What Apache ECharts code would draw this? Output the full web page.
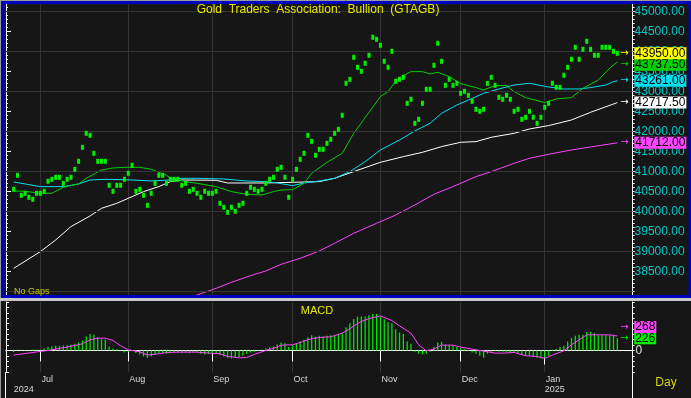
<!DOCTYPE html>
<html>
<head>
<meta charset="utf-8">
<title>Gold Traders Association: Bullion (GTAGB)</title>
<script src="https://cdn.jsdelivr.net/npm/echarts@6/dist/echarts.min.js"></script>
<style>
  html, body { margin: 0; padding: 0; background: #161616; }
  #chart { width: 691px; height: 398px; }
</style>
</head>
<body>
<div id="chart"></div>
<script>
// daily closes, 20 Jun 2024 .. 28 Jan 2025 (weekdays, no gaps)
var closes = [
  40550, 40900, 40400, 40450, 40350, 40300, 40450, 40450, 40500, 40750,
  40800, 40850, 40850, 40700, 40800, 40850, 41050, 41250, 41600, 41950,
  41900, 41450, 41250, 41250, 41250, 40650, 40500, 40650, 40650, 40800,
  40950, 41150, 40500, 40550, 40400, 40150, 40450, 40700, 40900, 40900,
  40700, 40800, 40800, 40800, 40650, 40700, 40500, 40550, 40450, 40350,
  40500, 40450, 40450, 40500, 40200, 40100, 39975, 40100, 40000, 40150,
  40200, 40450, 40600, 40550, 40500, 40550, 40700, 40800, 40850, 41050,
  41100, 40850, 40350, 40800, 41050, 41300, 41450, 41900, 41750, 41400,
  41550, 41550, 41700, 41800, 41950, 42050, 42400, 43200, 43300, 43850,
  43600, 43500, 43700, 43900, 44350, 44300, 44150, 43750, 43600, 44000,
  43250, 43300, 43350, 42700, 42800, 42200, 42300, 42700, 43050, 43050,
  43650, 44200, 43750, 43150, 43300, 43150, 43200, 42950, 43000, 42900,
  42750, 42550, 42500, 42550, 43200, 43350, 43150, 42850, 42800, 42900,
  42800, 42500, 42550, 42300, 42350, 42500, 42350, 42200, 42350, 42600,
  42700, 43200, 43100, 43100, 43400, 43600, 43800, 44100, 43800, 44050,
  44250, 44050, 43900, 43900, 44100, 44100, 44100, 44000, 43950
];

// moving averages: [day index, value]
var maFast = [[0,40508],[3,40500],[7,40450],[10,40450],[13,40600],[17,40683],[19,40825],[23,41033],
  [26,41083],[29,41100],[33,41100],[36,41050],[40,40900],[41,40830],[45,40742],[48,40700],[53,40617],
  [57,40492],[61,40425],[65,40408],[68,40492],[70,40533],[73,40542],[76,40700],[78,40950],[82,41225],
  [86,41450],[89,41950],[93,42475],[96,42867],[98,42992],[100,43258],[102,43392],[104,43492],[107,43492],
  [109,43433],[111,43475],[114,43367],[117,43192],[121,43092],[123,43033],[126,43142],[129,43142],
  [131,42992],[134,42842],[139,42717],[142,42808],[146,42842],[149,43075],[153,43283],[156,43575],[158,43737.5]];
var maMid = [[0,40733],[3,40683],[7,40617],[13,40617],[17,40683],[20,40783],[24,40800],[31,40783],
  [36,40758],[41,40783],[44,40825],[48,40825],[55,40808],[61,40758],[66,40742],[69,40708],[73,40642],
  [76,40708],[79,40742],[84,40825],[88,40992],[92,41242],[96,41533],[101,41783],[105,42008],[109,42200],
  [112,42450],[116,42658],[119,42780],[123,42950],[127,43058],[131,43158],[135,43200],[140,43108],
  [144,43058],[148,43058],[151,43092],[155,43158],[157,43242],[158,43261]];
var maSlow = [[0,38575],[7,38992],[11,39283],[15,39617],[20,39883],[23,40075],[27,40200],[31,40367],
  [34,40492],[38,40617],[41,40742],[44,40783],[53,40775],[56,40708],[66,40708],[73,40725],[80,40742],
  [84,40825],[89,40992],[96,41225],[102,41367],[107,41475],[112,41617],[117,41725],[121,41742],
  [125,41850],[131,41950],[135,42058],[140,42142],[146,42283],[151,42475],[158,42717.5]];
var maLong = [[44,37750],[48,37908],[53,38075],[57,38225],[62,38392],[66,38508],[70,38675],[75,38825],
  [80,39008],[84,39200],[89,39450],[95,39700],[100,39908],[105,40158],[110,40425],[116,40658],
  [121,40867],[125,40992],[131,41200],[135,41325],[140,41425],[146,41533],[151,41608],[158,41712]];

// MACD panel
var macdHist = [
  -30, 15, 15, 10, 10, 12, 15, 15, 37, 62,
  74, 86, 86, 92, 99, 105, 123, 148, 185, 259,
  308, 296, 247, 210, 197, 74, 37, 25, 6, -37,
  -25, -12, -49, -74, -111, -136, -111, -74, -49, -49,
  -62, -49, -37, -37, -49, -37, -49, -37, -37, -62,
  -74, -62, -49, -62, -86, -111, -136, -148, -136, -123,
  -99, -62, -37, -25, -12, 12, 37, 62, 74, 111,
  148, 136, 62, 99, 136, 167, 197, 247, 284, 259,
  271, 259, 271, 284, 284, 308, 330, 430, 506, 586,
  629, 629, 629, 654, 679, 679, 629, 580, 530, 506,
  395, 333, 308, 167, 123, -25, -62, -74, -62, -25,
  62, 148, 160, 105, 99, 86, 62, 43, 25, -12,
  -37, -62, -99, -136, -62, -25, -12, -25, -25, -25,
  -37, -49, -49, -86, -99, -99, -111, -136, -148, -136,
  -99, 12, 25, 62, 86, 167, 228, 271, 290, 290,
  345, 345, 321, 284, 284, 284, 284, 271, 226
];
var macdSignal = [[0,-86],[7,-18],[9,0],[14,62],[18,123],[20,197],[22,228],[24,228],[26,185],[28,86],
  [30,12],[33,-25],[35,-86],[38,-62],[40,-37],[43,-31],[48,-31],[51,-49],[54,-62],[56,-111],[59,-136],
  [61,-130],[63,-74],[66,0],[69,62],[70,99],[73,105],[75,148],[78,222],[81,247],[83,253],[86,321],
  [88,401],[89,456],[91,537],[93,592],[96,641],[99,555],[101,456],[104,321],[106,105],[108,-6],[110,25],
  [112,99],[115,99],[117,62],[120,25],[123,-12],[126,-49],[128,-49],[131,-37],[134,-99],[137,-111],
  [139,-148],[141,-86],[144,-6],[146,105],[150,290],[156,290],[158,268]];

var priceLabels = [38500, 39000, 39500, 40000, 40500, 41000, 41500, 42000, 42500, 43000, 43500, 44000, 44500, 45000];
var priceMajorTicks = [38000, 38500, 39000, 39500, 40000, 40500, 41000, 41500, 42000, 42500, 43000, 43500, 44000, 44500, 45000];
var priceGrid = [38000, 39000, 40000, 41000, 42000, 43000, 44000, 45000];
var monthNames = ['Jan', 'Feb', 'Mar', 'Apr', 'May', 'Jun', 'Jul', 'Aug', 'Sep', 'Oct', 'Nov', 'Dec'];

var PAD = 2;   // empty days left of first close
var days = (function () {
  var out = [], d = new Date(Date.UTC(2024, 5, 18));
  while (out.length < closes.length + PAD + 4) {
    var wd = d.getUTCDay();
    if (wd !== 0 && wd !== 6) out.push(d.toISOString().slice(0, 10));
    d.setUTCDate(d.getUTCDate() + 1);
  }
  return out;
})();
var lastDay = closes.length - 1 + PAD;

function monthStart(i) {
  return i > PAD && i <= lastDay && days[i].slice(5, 7) !== days[i - 1].slice(5, 7);
}
function yearStart(i) {
  return i > PAD && i <= lastDay && days[i].slice(0, 4) !== days[i - 1].slice(0, 4);
}
function shift(pairs) {
  return pairs.map(function (p) { return [p[0] + PAD, p[1]]; });
}

var FONT = '"Liberation Sans", Arial, sans-serif';
var GRID_LINE = '#343434';

function tag(color, text, dy) {
  return {
    show: true,
    distance: 3,
    offset: [0, dy || 0],
    formatter: '{a|\u2192}{b|' + text + '}',
    rich: {
      a: { color: color, fontSize: 10, width: 14, fontFamily: 'DejaVu Sans' },
      b: { backgroundColor: color, color: '#000', fontSize: 12, lineHeight: 13,
           padding: [0, 1, 0, 1], fontFamily: FONT }
    }
  };
}

function maSeries(name, data, color, label, dy) {
  return {
    name: name,
    type: 'line',
    xAxisIndex: 0,
    yAxisIndex: 0,
    data: shift(data),
    showSymbol: false,
    connectNulls: true,
    lineStyle: { color: color, width: 1 },
    itemStyle: { color: color },
    endLabel: tag(color, label, dy),
    silent: true
  };
}

var last = closes.length - 1;
var histData = macdHist.map(function (v, i) { return [i + PAD, v]; });
histData[last] = {
  value: [last + PAD, macdHist[last]],
  label: {
    show: true, position: [3.5, 0], align: 'left', verticalAlign: 'middle',
    formatter: '{a|\u2192}{b|' + macdHist[last] + '}',
    rich: tag('#00ee00', '').rich
  }
};

var option = {
  backgroundColor: '#161616',
  animation: false,
  textStyle: { fontFamily: FONT },
  grid: [
    { left: 6, right: 58.4, top: 3.3, height: 292, outerBoundsMode: 'none' },
    { left: 6, right: 58.4, top: 302, height: 70, outerBoundsMode: 'none' }
  ],
  xAxis: [
    {
      type: 'category', gridIndex: 0, data: days, boundaryGap: false,
      axisLine: { show: false }, axisTick: { show: false }, axisLabel: { show: false },
      splitLine: { show: true, interval: monthStart, lineStyle: { color: GRID_LINE } }
    },
    {
      type: 'category', gridIndex: 1, data: days, boundaryGap: false, position: 'bottom',
      axisLine: { show: true, lineStyle: { color: '#fff' } },
      axisTick: { show: true, interval: monthStart, length: 11, lineStyle: { color: '#fff' } },
      axisLabel: {
        show: true, interval: monthStart, align: 'left', verticalAlign: 'top', margin: 3,
        padding: [0, 0, 0, 1], color: '#d8d8d8', fontSize: 9,
        formatter: function (v) { return monthNames[+v.slice(5, 7) - 1]; }
      },
      splitLine: { show: true, interval: monthStart, lineStyle: { color: GRID_LINE } }
    },
    {
      type: 'category', gridIndex: 1, data: days, boundaryGap: false, position: 'bottom', offset: 11.5,
      axisLine: { show: true, lineStyle: { color: '#fff' } },
      axisTick: { show: true, interval: yearStart, length: 14, lineStyle: { color: '#fff' } },
      axisLabel: {
        show: true, interval: function (i) { return i === PAD || yearStart(i); },
        align: 'left', verticalAlign: 'top', margin: 2, color: '#d8d8d8', fontSize: 9,
        formatter: function (v) { return v.slice(0, 4); }
      },
      splitLine: { show: false }
    }
  ],
  yAxis: [
    {
      type: 'value', gridIndex: 0, position: 'right', min: 37900, max: 45200, interval: 100,
      axisLine: { show: true, lineStyle: { color: '#fff' } },
      axisTick: { show: true, length: 2, lineStyle: { color: '#fff' } },
      axisLabel: {
        show: true, customValues: priceLabels, margin: 2, color: '#00c8c8', fontSize: 12,
        formatter: function (v) { return v.toFixed(2); }
      },
      splitLine: { show: false }
    },
    {
      type: 'value', gridIndex: 0, position: 'left', min: 37900, max: 45200, interval: 100,
      axisLine: { show: true, lineStyle: { color: '#fff' } },
      axisTick: { show: true, inside: true, length: 2, lineStyle: { color: '#fff' } },
      axisLabel: { show: false }, splitLine: { show: false }
    },
    {
      type: 'value', gridIndex: 0, position: 'left', min: 37900, max: 45200, interval: 100,
      axisLine: { show: false },
      axisTick: { show: true, inside: true, length: 5, customValues: priceMajorTicks, lineStyle: { color: '#fff' } },
      axisLabel: { show: false }, splitLine: { show: false }
    },
    {
      type: 'value', gridIndex: 1, position: 'right', min: -400, max: 900, interval: 100,
      axisLine: { show: true, lineStyle: { color: '#fff' } },
      axisTick: { show: true, length: 2, lineStyle: { color: '#fff' } },
      axisLabel: {
        show: true, margin: 3, color: '#e0e0e0', fontSize: 12,
        formatter: function (v) { return v === 0 ? '0' : ''; }
      },
      splitLine: { show: false }
    },
    {
      type: 'value', gridIndex: 1, position: 'left', min: -400, max: 900, interval: 100,
      axisLine: { show: true, lineStyle: { color: '#fff' } },
      axisTick: { show: true, inside: true, length: 3, lineStyle: { color: '#fff' } },
      axisLabel: { show: false }, splitLine: { show: false }
    }
  ],
  series: [
    (function () {
      var s = maSeries('MA long', maLong, '#ff44ff', '41712.00');
      s.markLine = {
        silent: true, symbol: 'none', label: { show: false },
        lineStyle: { color: GRID_LINE, width: 1, type: 'solid' },
        data: priceGrid.map(function (v) { return { yAxis: v }; })
      };
      return s;
    })(),
    maSeries('MA slow', maSlow, '#ffffff', '42717.50'),
    maSeries('MA mid', maMid, '#00e0f0', '43261.00'),
    maSeries('MA fast', maFast, '#00d000', '43737.50', 3),
    {
      name: 'Close',
      type: 'line',
      xAxisIndex: 0, yAxisIndex: 0,
      data: closes.map(function (v, i) { return [i + PAD, v]; }),
      symbol: 'rect', symbolSize: [3, 5], showSymbol: true, showAllSymbol: true,
      lineStyle: { opacity: 0, width: 0 },
      itemStyle: { color: '#00f000' },
      endLabel: tag('#ffff00', closes[last].toFixed(2)),
      silent: true, z: 5
    },
    {
      name: 'MACD hist',
      type: 'bar',
      xAxisIndex: 1, yAxisIndex: 3,
      data: histData,
      barWidth: 1.3,
      itemStyle: { color: '#00e400' },
      silent: true
    },
    {
      name: 'MACD signal',
      type: 'line',
      xAxisIndex: 1, yAxisIndex: 3,
      data: shift(macdSignal),
      showSymbol: false,
      lineStyle: { color: '#ff44ff', width: 1 },
      endLabel: tag('#ff44ff', '268', -9),
      silent: true, z: 5
    }
  ],
  graphic: [
    { type: 'line', z: 100, shape: { x1: 0.5, y1: 0, x2: 0.5, y2: 398 }, style: { stroke: '#9a9a9a', lineWidth: 1 } },
    { type: 'line', z: 100, shape: { x1: 0, y1: 0.5, x2: 691, y2: 0.5 }, style: { stroke: '#9a9a9a', lineWidth: 1 } },
    { type: 'rect', z: 100, shape: { x: 3, y: 2.5, width: 687, height: 294 }, style: { fill: null, stroke: '#0000c0', lineWidth: 3 } },
    { type: 'rect', z: 100, shape: { x: 0, y: 298, width: 691, height: 3 }, style: { fill: '#c8c8c8' } },
    { type: 'line', z: 100, shape: { x1: 5.5, y1: 372, x2: 5.5, y2: 398 }, style: { stroke: '#fff', lineWidth: 1 } },
    { type: 'line', z: 100, shape: { x1: 632.5, y1: 372, x2: 632.5, y2: 398 }, style: { stroke: '#fff', lineWidth: 1 } },
    { type: 'text', z: 100, x: 318, y: 10,
      style: { text: 'Gold  Traders  Association:  Bullion  (GTAGB)', fill: '#e8e800', font: '12px ' + FONT, align: 'center', verticalAlign: 'middle' } },
    { type: 'text', z: 100, x: 14, y: 291.5,
      style: { text: 'No Gaps', fill: '#c8c800', font: '9px ' + FONT, align: 'left', verticalAlign: 'middle' } },
    { type: 'text', z: 100, x: 317, y: 310.5,
      style: { text: 'MACD', fill: '#e8e800', font: '11px ' + FONT, align: 'center', verticalAlign: 'middle' } },
    { type: 'text', z: 100, x: 666, y: 383,
      style: { text: 'Day', fill: '#d8d800', font: '12px ' + FONT, align: 'center', verticalAlign: 'middle' } }
  ]
};

var chart = echarts.init(document.getElementById('chart'), null, { renderer: 'canvas' });
chart.setOption(option);
</script>
</body>
</html>
